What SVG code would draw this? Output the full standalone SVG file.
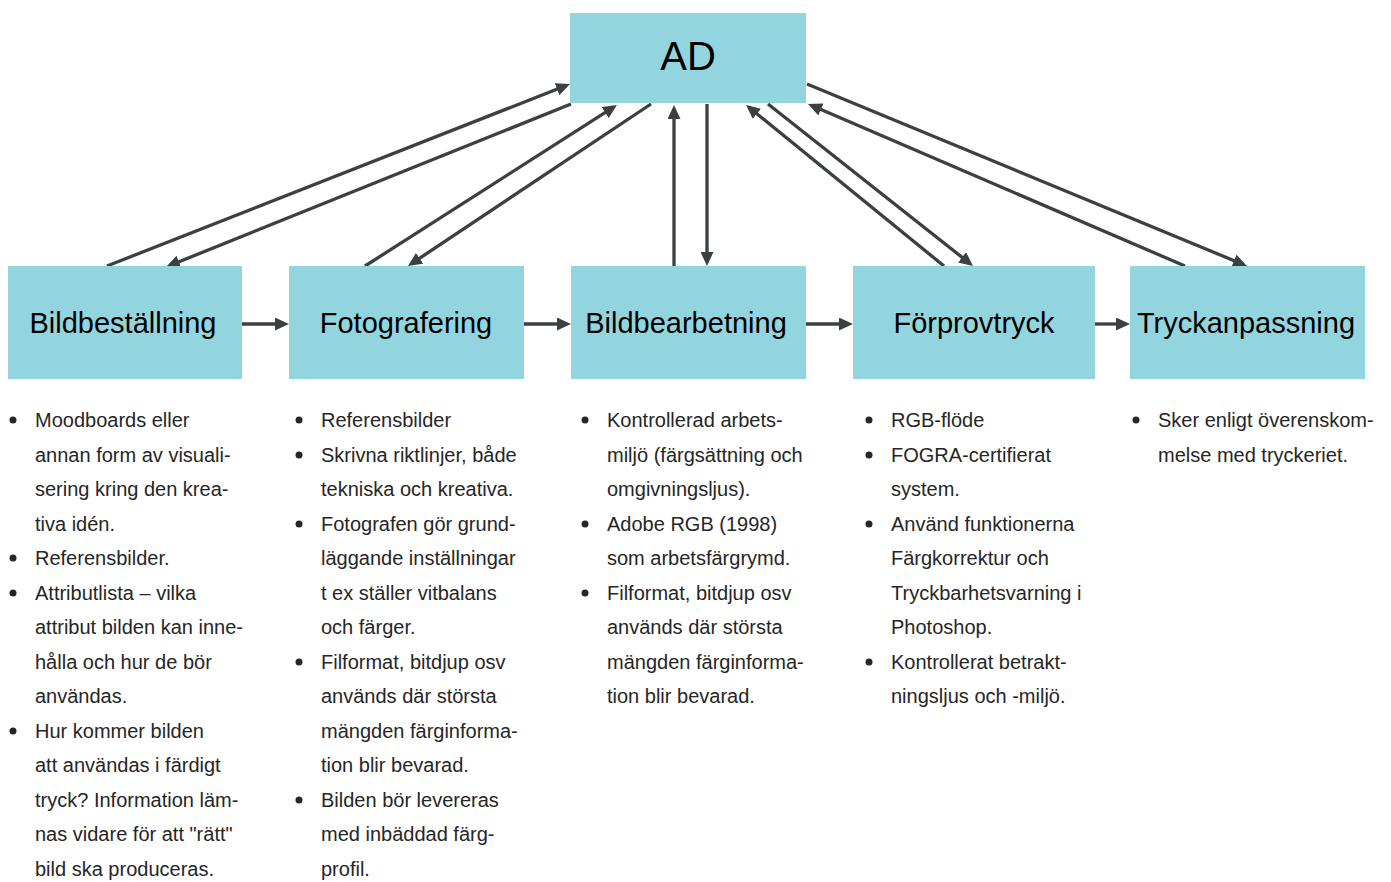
<svg xmlns="http://www.w3.org/2000/svg" width="1391" height="882" viewBox="0 0 1391 882">
  <style>
    .box { fill: #93d5de; }
    .label { font-family: "Liberation Sans", Arial, sans-serif; font-size: 29px; fill: #000; text-anchor: middle; }
    .title { font-family: "Liberation Sans", Arial, sans-serif; font-size: 40px; fill: #000; text-anchor: middle; }
    .conn { stroke: #3d4041; stroke-width: 3.3; fill: none; marker-end: url(#head); }
    .list { font-family: "Liberation Sans", Arial, sans-serif; font-size: 20px; fill: #262626; }
    .dot { fill: #262626; }
  </style>
  <defs>
    <marker id="head" viewBox="0 0 14 13" refX="10" refY="6.5" markerWidth="14" markerHeight="13" markerUnits="userSpaceOnUse" orient="auto">
      <path d="M0,0 L14,6.5 L0,13 Z" fill="#3d4041"/>
    </marker>
  </defs>

  <rect width="1391" height="882" fill="#fff"/>

  <!-- connectors -->
  <g id="connectors">
    <line class="conn" x1="107" y1="266" x2="566.3" y2="85.5"/>
    <line class="conn" x1="571" y1="104" x2="169.7" y2="265.5"/>
    <line class="conn" x1="365" y1="266" x2="613.6" y2="107.2"/>
    <line class="conn" x1="651" y1="104" x2="411.3" y2="263.8"/>
    <line class="conn" x1="674" y1="266" x2="674" y2="109"/>
    <line class="conn" x1="707" y1="104" x2="707" y2="262"/>
    <line class="conn" x1="944" y1="266" x2="749.1" y2="107.5"/>
    <line class="conn" x1="768" y1="104" x2="969.9" y2="263.5"/>
    <line class="conn" x1="1185" y1="266" x2="811.7" y2="105.6"/>
    <line class="conn" x1="807" y1="84" x2="1243.3" y2="264.5"/>
    <line class="conn" x1="242" y1="324" x2="285" y2="324"/>
    <line class="conn" x1="524" y1="324" x2="567" y2="324"/>
    <line class="conn" x1="806" y1="324" x2="849" y2="324"/>
    <line class="conn" x1="1095" y1="324" x2="1126" y2="324"/>
  </g>

  <!-- nodes -->
  <g id="node-ad">
    <rect class="box" x="570" y="13" width="236" height="90"/>
    <text class="title" x="688" y="70">AD</text>
  </g>
  <g id="node-bildbestallning">
    <rect class="box" x="8" y="266" width="234" height="113"/>
    <text class="label" x="123" y="333">Bildbeställning</text>
  </g>
  <g id="node-fotografering">
    <rect class="box" x="289" y="266" width="235" height="113"/>
    <text class="label" x="406" y="333">Fotografering</text>
  </g>
  <g id="node-bildbearbetning">
    <rect class="box" x="571" y="266" width="235" height="113"/>
    <text class="label" x="686" y="333">Bildbearbetning</text>
  </g>
  <g id="node-forprovtryck">
    <rect class="box" x="853" y="266" width="242" height="113"/>
    <text class="label" x="974" y="333">Förprovtryck</text>
  </g>
  <g id="node-tryckanpassning">
    <rect class="box" x="1130" y="266" width="235" height="113"/>
    <text class="label" x="1246" y="333">Tryckanpassning</text>
  </g>

  <!-- bullet lists under each step -->
  <g id="list-bildbestallning">
    <circle class="dot" cx="13" cy="420" r="3.5"/>
    <circle class="dot" cx="13" cy="558" r="3.5"/>
    <circle class="dot" cx="13" cy="593" r="3.5"/>
    <circle class="dot" cx="13" cy="731" r="3.5"/>
    <text class="list">
      <tspan x="35" y="427">Moodboards eller</tspan>
      <tspan x="35" y="461.5">annan form av visuali-</tspan>
      <tspan x="35" y="496">sering kring den krea-</tspan>
      <tspan x="35" y="530.5">tiva idén.</tspan>
      <tspan x="35" y="565">Referensbilder.</tspan>
      <tspan x="35" y="599.5">Attributlista – vilka</tspan>
      <tspan x="35" y="634">attribut bilden kan inne-</tspan>
      <tspan x="35" y="668.5">hålla och hur de bör</tspan>
      <tspan x="35" y="703">användas.</tspan>
      <tspan x="35" y="737.5">Hur kommer bilden</tspan>
      <tspan x="35" y="772">att användas i färdigt</tspan>
      <tspan x="35" y="806.5">tryck? Information läm-</tspan>
      <tspan x="35" y="841">nas vidare för att "rätt"</tspan>
      <tspan x="35" y="875.5">bild ska produceras.</tspan>
    </text>
  </g>

  <g id="list-fotografering">
    <circle class="dot" cx="299" cy="420" r="3.5"/>
    <circle class="dot" cx="299" cy="455" r="3.5"/>
    <circle class="dot" cx="299" cy="524" r="3.5"/>
    <circle class="dot" cx="299" cy="662" r="3.5"/>
    <circle class="dot" cx="299" cy="800" r="3.5"/>
    <text class="list">
      <tspan x="321" y="427">Referensbilder</tspan>
      <tspan x="321" y="461.5">Skrivna riktlinjer, både</tspan>
      <tspan x="321" y="496">tekniska och kreativa.</tspan>
      <tspan x="321" y="530.5">Fotografen gör grund-</tspan>
      <tspan x="321" y="565">läggande inställningar</tspan>
      <tspan x="321" y="599.5">t ex ställer vitbalans</tspan>
      <tspan x="321" y="634">och färger.</tspan>
      <tspan x="321" y="668.5">Filformat, bitdjup osv</tspan>
      <tspan x="321" y="703">används där största</tspan>
      <tspan x="321" y="737.5">mängden färginforma-</tspan>
      <tspan x="321" y="772">tion blir bevarad.</tspan>
      <tspan x="321" y="806.5">Bilden bör levereras</tspan>
      <tspan x="321" y="841">med inbäddad färg-</tspan>
      <tspan x="321" y="875.5">profil.</tspan>
    </text>
  </g>

  <g id="list-bildbearbetning">
    <circle class="dot" cx="585" cy="420" r="3.5"/>
    <circle class="dot" cx="585" cy="524" r="3.5"/>
    <circle class="dot" cx="585" cy="593" r="3.5"/>
    <text class="list">
      <tspan x="607" y="427">Kontrollerad arbets-</tspan>
      <tspan x="607" y="461.5">miljö (färgsättning och</tspan>
      <tspan x="607" y="496">omgivningsljus).</tspan>
      <tspan x="607" y="530.5">Adobe RGB (1998)</tspan>
      <tspan x="607" y="565">som arbetsfärgrymd.</tspan>
      <tspan x="607" y="599.5">Filformat, bitdjup osv</tspan>
      <tspan x="607" y="634">används där största</tspan>
      <tspan x="607" y="668.5">mängden färginforma-</tspan>
      <tspan x="607" y="703">tion blir bevarad.</tspan>
    </text>
  </g>

  <g id="list-forprovtryck">
    <circle class="dot" cx="869" cy="420" r="3.5"/>
    <circle class="dot" cx="869" cy="455" r="3.5"/>
    <circle class="dot" cx="869" cy="524" r="3.5"/>
    <circle class="dot" cx="869" cy="662" r="3.5"/>
    <text class="list">
      <tspan x="891" y="427">RGB-flöde</tspan>
      <tspan x="891" y="461.5">FOGRA-certifierat</tspan>
      <tspan x="891" y="496">system.</tspan>
      <tspan x="891" y="530.5">Använd funktionerna</tspan>
      <tspan x="891" y="565">Färgkorrektur och</tspan>
      <tspan x="891" y="599.5">Tryckbarhetsvarning i</tspan>
      <tspan x="891" y="634">Photoshop.</tspan>
      <tspan x="891" y="668.5">Kontrollerat betrakt-</tspan>
      <tspan x="891" y="703">ningsljus och -miljö.</tspan>
    </text>
  </g>

  <g id="list-tryckanpassning">
    <circle class="dot" cx="1136" cy="420" r="3.5"/>
    <text class="list">
      <tspan x="1158" y="427">Sker enligt överenskom-</tspan>
      <tspan x="1158" y="461.5">melse med tryckeriet.</tspan>
    </text>
  </g>
</svg>
